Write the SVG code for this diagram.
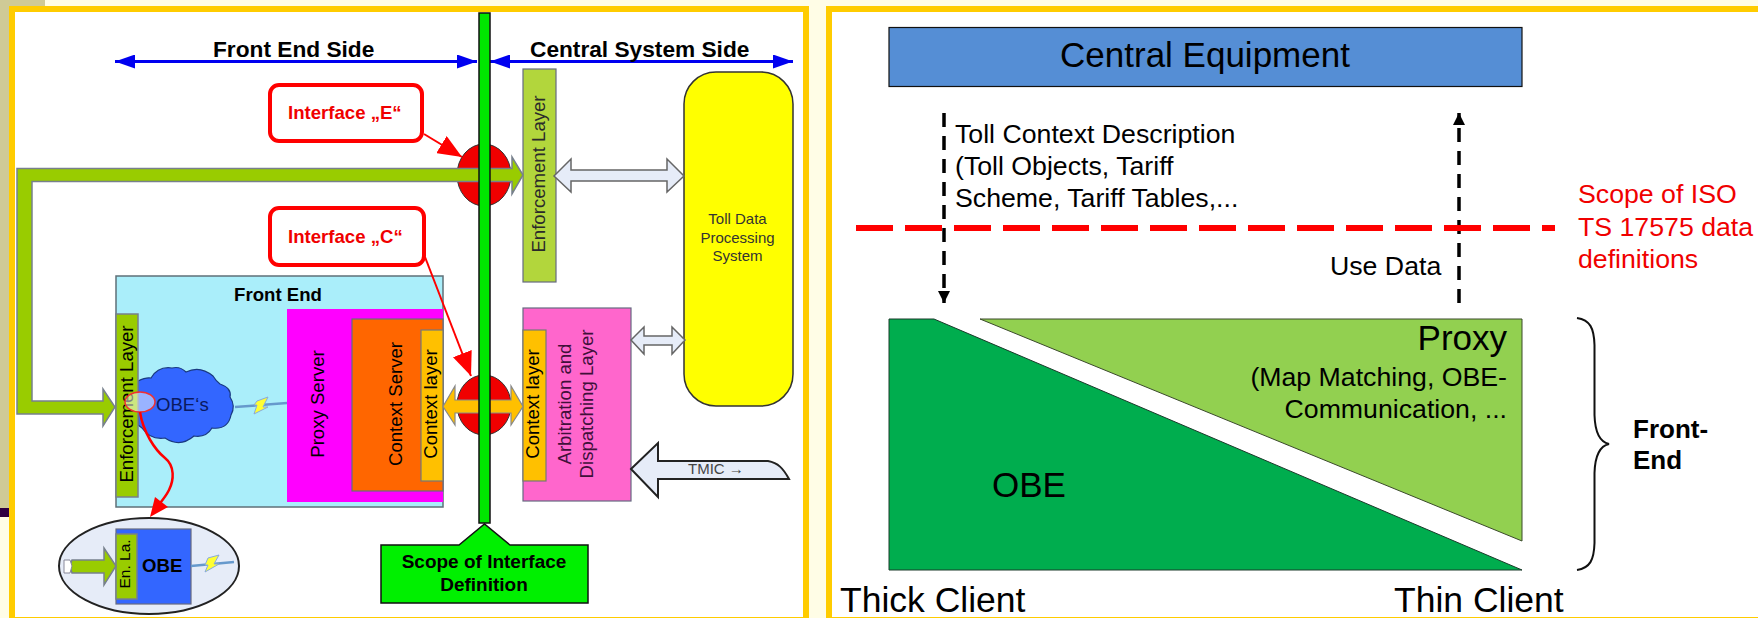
<svg xmlns="http://www.w3.org/2000/svg" width="1758" height="618" viewBox="0 0 1758 618">
<style>
text{font-family:"Liberation Sans",Arial,sans-serif;fill:#000}
.b{font-weight:700}
.m{text-anchor:middle}
.e{text-anchor:end}
.s18{font-size:18.6px}
.r{font-size:26.7px}
.big{font-size:35px}
.red{fill:#f00000}
.box{stroke:#666a80;stroke-width:1.2}
.ifc{fill:#fff;stroke:#f00;stroke-width:4}
.blue{stroke:#0000f0;stroke-width:3;fill:none;marker-start:url(#bh);marker-end:url(#bh)}
.rl{stroke:#f00;stroke-width:2;fill:none;marker-end:url(#rh)}
.da{stroke:#000;stroke-width:3.500;stroke-dasharray:14 9;fill:none}
.pale{fill:#e6ecf8;stroke:#666;stroke-width:1.5}
.grn{fill:#99cc00;stroke:#77808c;stroke-width:1.5}
.or{fill:#ffc000;stroke:#777;stroke-width:1.2}
.lt{fill:none;stroke:#6699cc;stroke-width:2.500}
.bolt{fill:#ffff33;stroke:#88aadd;stroke-width:1}
.dk{stroke:#111;stroke-width:1.5}
</style>
<defs>
<marker id="bh" markerUnits="userSpaceOnUse" markerWidth="20" markerHeight="14" refX="20" refY="7" orient="auto-start-reverse"><path d="M0 0L20 7L0 14z" fill="#0000f0"/></marker>
<marker id="rh" markerUnits="userSpaceOnUse" markerWidth="24" markerHeight="20" refX="24" refY="10" orient="auto"><path d="M0 0L24 10L0 20z" fill="#f00"/></marker>
<marker id="kh" markerUnits="userSpaceOnUse" markerWidth="12" markerHeight="12" refX="12" refY="6" orient="auto"><path d="M0 0L12 6L0 12z" fill="#000"/></marker>
</defs>

<g id="background">
<rect width="1758" height="618" fill="#fffde6"/>
<rect x="0" y="0" width="9" height="508" fill="#cfca96"/>
<rect x="9" y="0" width="36" height="6" fill="#cfca96"/>
<rect x="0" y="508" width="9" height="9" fill="#300040"/>
<rect x="12" y="9" width="794" height="611" fill="#fff" stroke="#ffcc00" stroke-width="6"/>
<rect x="829" y="9" width="940" height="611" fill="#fff" stroke="#ffcc00" stroke-width="6"/>
</g>

<g id="front-end">
<rect x="116" y="276" width="327" height="231" fill="#aaeefa" stroke="#5f7078" stroke-width="1.5"/>
<text class="b m s18" x="278" y="301">Front End</text>
</g>
<g id="proxy-server">
<rect x="287" y="309" width="156" height="193" fill="#ff00ff"/>
<text class="m s18" transform="translate(324 404) rotate(-90)">Proxy Server</text>
</g>
<g id="context-server">
<rect class="box" x="352" y="319" width="91" height="172" fill="#ff6600"/>
<text class="m s18" transform="translate(402 404) rotate(-90)">Context Server</text>
</g>
<g id="context-layer-left">
<rect class="or" x="421" y="330" width="22" height="151"/>
<text class="m s18" transform="translate(437 404) rotate(-90)">Context layer</text>
</g>
<g id="obes">
<path d="M138 381Q146 377 151 378Q158 366 172 368Q180 366 186 372Q200 365 213 376Q216 381 220 384Q232 388 230 397Q236 406 231 415Q228 430 212 428Q206 438 194 436Q180 448 165 438Q150 440 142 428L138 425Z" fill="#3366ff" stroke="#1a3a80" stroke-width="1.2"/>
<text class="s18" x="156" y="411" style="fill:#0a1a60">OBE‘s</text>
</g>
<g id="enforcement-layer-left">
<rect class="grn" x="116" y="314" width="22" height="183"/>
<text class="m s18" transform="translate(132.500 404) rotate(-90)">Enforcement Layer</text>
<ellipse cx="140" cy="402" rx="15" ry="10" fill="#fff" fill-opacity=".5" stroke="#f03030" stroke-width="1.5"/>
</g>
<g id="obe-detail">
<ellipse cx="149" cy="566" rx="90" ry="48" fill="#e6ecf8" stroke="#222" stroke-width="2"/>
<rect class="box" x="116" y="529" width="75" height="75" fill="#3366ff"/>
<rect class="grn" x="116" y="534" width="21" height="65"/>
<text class="m" font-size="15.500" transform="translate(130 564) rotate(-90)">En. La.</text>
<text class="b s18" x="142" y="572">OBE</text>
</g>

<g id="interface-e">
<rect class="ifc" x="270" y="85" width="152" height="56" rx="9"/>
<text class="b red" x="288" y="119" font-size="18.600">Interface „E“</text>
</g>
<g id="interface-c">
<rect class="ifc" x="270" y="208" width="154" height="57" rx="9"/>
<text class="b red" x="288" y="243" font-size="18.600">Interface „C“</text>
</g>
<g id="enforcement-layer-right">
<rect class="box" x="523" y="69" width="33" height="213" fill="#b2d63c"/>
<text class="m s18" transform="translate(545 174) rotate(-90)" style="fill:#2a2a2a">Enforcement Layer</text>
</g>
<g id="toll-system">
<rect x="684" y="72" width="109" height="334" rx="32" fill="#ffff00" stroke="#333" stroke-width="1.5"/>
<text class="m" x="737.500" y="224" font-size="15" style="fill:#333">Toll Data</text>
<text class="m" x="737.500" y="243" font-size="15" style="fill:#333">Processing</text>
<text class="m" x="737.500" y="261" font-size="15" style="fill:#333">System</text>
</g>
<g id="arbitration">
<rect class="box" x="523" y="308" width="108" height="193" fill="#ff66cc"/>
<text class="m s18" transform="translate(571 404) rotate(-90)" style="fill:#40103a">Arbitration and</text>
<text class="m s18" transform="translate(593 404) rotate(-90)" style="fill:#40103a">Dispatching Layer</text>
</g>
<g id="context-layer-right">
<rect class="or" x="523" y="330" width="23" height="151"/>
<text class="m s18" transform="translate(539 404) rotate(-90)">Context layer</text>
</g>
<g id="interface-circles">
<ellipse cx="484" cy="175" rx="27" ry="31" fill="#f00000" stroke="#333"/>
<ellipse cx="484" cy="405" rx="27" ry="30" fill="#f00000" stroke="#333"/>
</g>

<g id="connectors">
<path class="grn" d="M17 168.500H512V157L523 175L512 194V181.500H32V401H103V389L115 407L103 426V414H17Z"/>
<path d="M443 406.500L455 386V400H511V386L523 406.500L511 425V413H455V425Z" fill="#ffc000" stroke="#888" stroke-width="1.2"/>
<path class="pale" d="M554 176L571 159V170H667V159L684 176L667 192V181H571V192Z"/>
<path class="pale" d="M631 340L644 327V336H672V327L685 340L672 354V345H644V354Z"/>
<path d="M631 469L658 443V461H768C778 463 783 468 789 479H658V497Z" fill="#e6ecf8" stroke="#222" stroke-width="2"/>
<text x="688" y="474" font-size="15" style="fill:#444">TMIC →</text>
<path class="grn" d="M72 560H104V548L116 566L104 585V573H72L70 566Z"/>
<path d="M64 560H70L72 566L70 573H64Z" fill="#fff" stroke="#889" stroke-width="1"/>
<path d="M140 412C143 432 155 450 165 458C175 466 174 480 169 490C165 498 160 503 156 508" fill="none" stroke="#f00" stroke-width="2.500"/>
<path d="M150 517L155 497L168 507Z" fill="#f00"/>
<path class="rl" d="M424 134L462 157"/>
<path class="rl" d="M425 257L471 376"/>
<path class="lt" d="M235 407L287 403"/>
<path class="bolt" d="M257 401L268 397L263 407L268 407L254 414L257 405L254 405Z"/>
<path class="lt" d="M191 566L234 562"/>
<path class="bolt" d="M208 558L219 555L214 564L219 564L205 572L208 565L205 565Z"/>
<path class="blue" d="M115 61.500H477"/>
<path class="blue" d="M490 61.500H793"/>
</g>

<g id="scope-of-interface">
<rect x="479" y="13" width="11" height="510" fill="#00e600" stroke="#111" stroke-width="1.5"/>
<path class="dk" d="M381 545H459L484.500 524L510 545H588V603H381Z" fill="#00f000"/>
<text class="b m" x="484" y="568" font-size="19">Scope of Interface</text>
<text class="b m" x="484" y="591" font-size="19">Definition</text>
</g>
<g id="side-labels">
<text class="b" x="213" y="57" font-size="22.700">Front End Side</text>
<text class="b" x="530" y="57" font-size="22.700">Central System Side</text>
</g>

<g id="central-equipment">
<rect x="889" y="27.500" width="633" height="59" fill="#558ed5" stroke="#111" stroke-width="1.2"/>
<text class="m" x="1205" y="67" font-size="35">Central Equipment</text>
</g>
<g id="right-connectors">
<path class="da" d="M944 113V303" marker-end="url(#kh)"/>
<path class="da" d="M1459 303V113" marker-end="url(#kh)"/>
<path d="M856 228H1555" stroke="#f00" stroke-width="6" stroke-dasharray="37 12" fill="none"/>
</g>
<g id="toll-context-text">
<text class="r" x="955" y="143">Toll Context Description</text>
<text class="r" x="955" y="175">(Toll Objects, Tariff</text>
<text class="r" x="955" y="207">Scheme, Tariff Tables,...</text>
</g>
<g id="use-data"><text class="r" x="1330" y="275">Use Data</text></g>
<g id="iso-scope">
<text class="r red" x="1578" y="203">Scope of ISO</text>
<text class="r red" x="1578" y="236">TS 17575 data</text>
<text class="r red" x="1578" y="268">definitions</text>
</g>
<g id="obe-wedge">
<path d="M889 319H934L1522 570H889Z" fill="#00ad4e" stroke="#1a3a2a" stroke-width="1"/>
<text class="big" x="992" y="497">OBE</text>
</g>
<g id="proxy-wedge">
<path d="M980 319H1522V541Z" fill="#92d050" stroke="#3a4a2a" stroke-width="1"/>
<text class="big e" x="1507" y="350">Proxy</text>
<text class="r e" x="1507" y="386">(Map Matching, OBE-</text>
<text class="r e" x="1507" y="418">Communication, ...</text>
</g>
<g id="brace">
<path d="M1577 318C1590 320 1594 328 1594.500 345V415C1595 432 1600 442 1609 444C1600 446 1595 456 1594.500 473V543C1594 560 1590 568 1577 570" fill="none" stroke="#111" stroke-width="2"/>
<text class="b" x="1633" y="438" font-size="26">Front-</text>
<text class="b" x="1633" y="469" font-size="26">End</text>
</g>
<g id="client-labels">
<text x="840" y="612" font-size="35.500">Thick Client</text>
<text x="1394" y="612" font-size="35.500">Thin Client</text>
</g>
</svg>
